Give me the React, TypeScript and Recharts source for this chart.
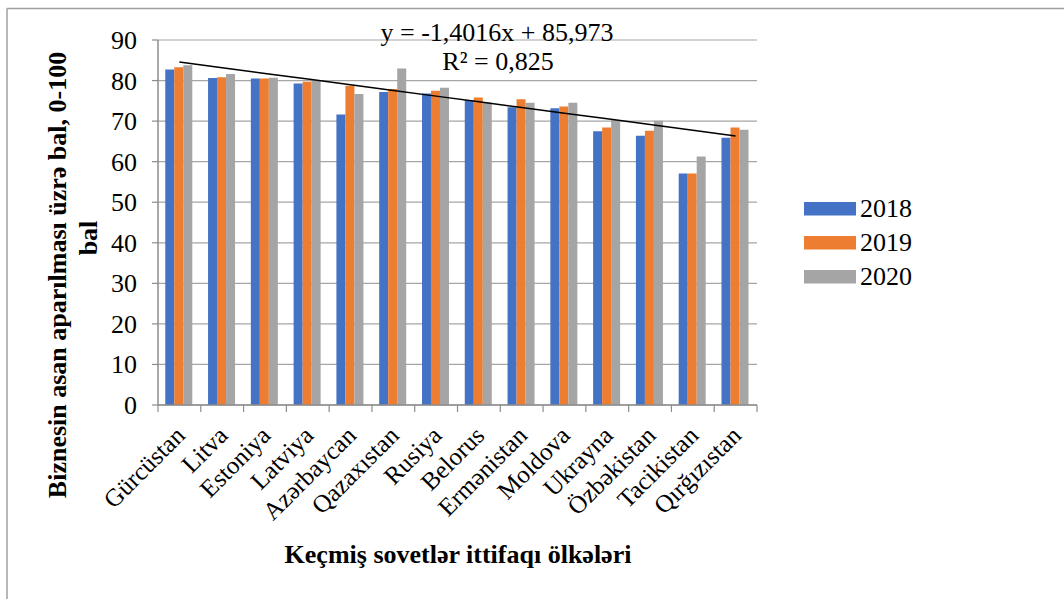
import { ComposedChart, Bar, Line, XAxis, YAxis, CartesianGrid } from 'recharts';

const countries = [
  'Gürcüstan', 'Litva', 'Estoniya', 'Latviya', 'Azərbaycan', 'Qazaxıstan', 'Rusiya',
  'Belorus', 'Ermənistan', 'Moldova', 'Ukrayna', 'Özbəkistan', 'Tacikistan', 'Qırğızıstan',
];
const values2018 = [82.7, 80.6, 80.5, 79.3, 71.6, 77.2, 76.8, 75.2, 73.4, 73.2, 67.5, 66.4, 57.1, 65.9];
const values2019 = [83.3, 80.8, 80.5, 79.7, 78.7, 77.9, 77.5, 75.8, 75.4, 73.6, 68.4, 67.6, 57.1, 68.4];
const values2020 = [83.8, 81.6, 80.7, 80.0, 76.7, 83.0, 78.2, 74.5, 74.5, 74.5, 70.3, 70.1, 61.3, 67.9];
const yTicks = [0, 10, 20, 30, 40, 50, 60, 70, 80, 90];

// linear trendline as printed on the chart
const trendSlope = -1.4016;
const trendIntercept = 85.973;
const trendEquation = 'y = -1,4016x + 85,973';
const trendR2 = 'R² = 0,825';

const series = [
  { key: '2018', color: '#4472C4' },
  { key: '2019', color: '#ED7D31' },
  { key: '2020', color: '#A5A5A5' },
];

const data = countries.map((name, i) => ({
  name,
  '2018': values2018[i],
  '2019': values2019[i],
  '2020': values2020[i],
  trend: trendIntercept + trendSlope * (i + 1),
}));

const FONT = "'Liberation Serif', 'Times New Roman', serif";
const W = 1064;
const H = 599;
const PLOT_LEFT = 158;
const PLOT_RIGHT = 757;
const PLOT_BOTTOM = 405;
const BAND = (PLOT_RIGHT - PLOT_LEFT) / countries.length;
const AXIS_GRAY = '#8c8c8c';
const serif = { fontFamily: FONT };

function CategoryTick(props: any) {
  const { x, y, payload, index } = props;
  const tx = x + 7;
  const ty = y + 32;
  return (
    <g>
      <line x1={x - BAND / 2} x2={x - BAND / 2} y1={y} y2={y + 7} stroke={AXIS_GRAY} strokeWidth={1.2} />
      {index === countries.length - 1 && (
        <line x1={x + BAND / 2} x2={x + BAND / 2} y1={y} y2={y + 7} stroke={AXIS_GRAY} strokeWidth={1.2} />
      )}
      <text
        x={tx}
        y={ty}
        transform={`rotate(-45, ${tx}, ${ty})`}
        textAnchor="end"
        style={serif}
        fontSize={25}
        fill="#000"
      >
        {payload.value}
      </text>
    </g>
  );
}

function ValueTick(props: any) {
  const { x, y, payload } = props;
  return (
    <text x={x} y={y + 9} textAnchor="end" style={serif} fontSize={26} fill="#000">
      {payload.value}
    </text>
  );
}

export default function App() {
  return (
    <div style={{ position: 'absolute', left: 0, top: 0, width: W, height: H, background: '#fff' }}>
      <ComposedChart
        width={W}
        height={H}
        data={data}
        margin={{ top: 40, right: W - PLOT_RIGHT, bottom: H - PLOT_BOTTOM - 30, left: PLOT_LEFT - 60 }}
        barCategoryGap="17%"
        barGap={0}
      >
        <CartesianGrid vertical={false} stroke="#a6a6a6" strokeWidth={1.2} />
        <XAxis
          dataKey="name"
          height={30}
          interval={0}
          tickSize={0}
          tickMargin={0}
          tickLine={false}
          axisLine={{ stroke: AXIS_GRAY, strokeWidth: 1.5 }}
          tick={<CategoryTick />}
        />
        <YAxis
          width={60}
          domain={[0, 90]}
          ticks={yTicks}
          interval={0}
          tickSize={6}
          tickMargin={15}
          tickLine={{ stroke: AXIS_GRAY, strokeWidth: 1.2 }}
          axisLine={{ stroke: AXIS_GRAY, strokeWidth: 1.5 }}
          tick={<ValueTick />}
        />
        {series.map((s) => (
          <Bar key={s.key} dataKey={s.key} fill={s.color} isAnimationActive={false} />
        ))}
        <Line
          dataKey="trend"
          type="linear"
          stroke="#000"
          strokeWidth={1.5}
          dot={false}
          activeDot={false}
          legendType="none"
          isAnimationActive={false}
        />
      </ComposedChart>
      <svg
        width={W}
        height={H}
        style={{ position: 'absolute', left: 0, top: 0, pointerEvents: 'none' }}
      >
        <line x1={7} y1={8.5} x2={W} y2={8.5} stroke="#a0a0a0" strokeWidth={1.5} />
        <line x1={7} y1={8.5} x2={7} y2={H} stroke="#a0a0a0" strokeWidth={1.5} />
        <text x={497} y={41} textAnchor="middle" style={serif} fontSize={26} fill="#000">{trendEquation}</text>
        <text x={498} y={70} textAnchor="middle" style={serif} fontSize={26} fill="#000">{trendR2}</text>
        <text x={458} y={563} textAnchor="middle" style={serif} fontSize={26} fontWeight="bold" fill="#000">
          Keçmiş sovetlər ittifaqı ölkələri
        </text>
        <text
          x={66}
          y={275}
          transform="rotate(-90, 66, 275)"
          textAnchor="middle"
          style={serif}
          fontSize={26}
          fontWeight="bold"
          fill="#000"
        >
          Biznesin asan aparılması üzrə bal, 0-100
        </text>
        <text
          x={97}
          y={238}
          transform="rotate(-90, 97, 238)"
          textAnchor="middle"
          style={serif}
          fontSize={26}
          fontWeight="bold"
          fill="#000"
        >
          bal
        </text>
        {series.map((s, i) => (
          <g key={s.key}>
            <rect x={804} y={202 + i * 34} width={52} height={13.5} fill={s.color} />
            <text x={860} y={217 + i * 34} style={serif} fontSize={26} fill="#000">{s.key}</text>
          </g>
        ))}
      </svg>
    </div>
  );
}
